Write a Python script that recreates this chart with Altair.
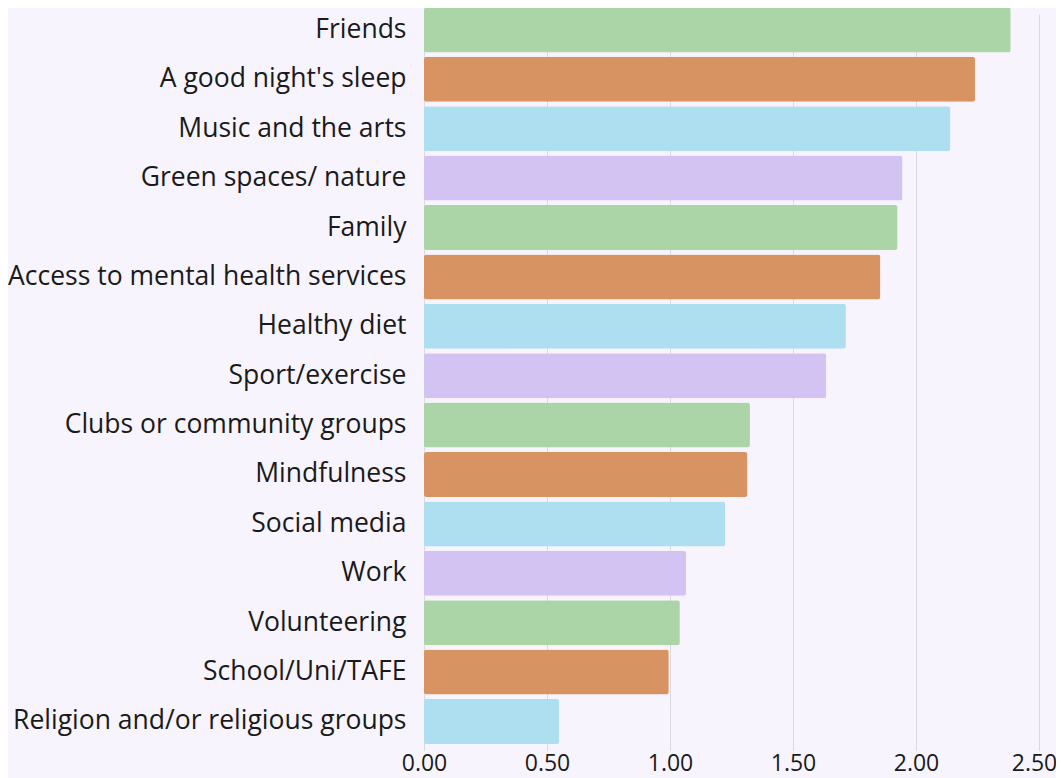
import altair as alt
import pandas as pd

categories = [
    "Friends", "A good night's sleep", "Music and the arts", "Green spaces/ nature",
    "Family", "Access to mental health services", "Healthy diet", "Sport/exercise",
    "Clubs or community groups", "Mindfulness", "Social media", "Work",
    "Volunteering", "School/Uni/TAFE", "Religion and/or religious groups",
]
values = [2.385, 2.24, 2.14, 1.945, 1.925, 1.855, 1.715, 1.635, 1.325, 1.315, 1.225, 1.065, 1.04, 0.995, 0.55]
tick_values = [0, 0.5, 1, 1.5, 2, 2.5]
palette = ["#abd4a7", "#d89363", "#addff0", "#d2c3f3"]

df = pd.DataFrame({
    "category": categories,
    "value": values,
    "group": [str(i % 4) for i in range(len(categories))],
})

FONT = "Open Sans"

chart = alt.Chart(df).mark_bar(cornerRadius=2.5).encode(
    y=alt.Y("category:N", sort=categories, title=None,
            scale=alt.Scale(paddingInner=0.089, paddingOuter=0.0, range=[-6.6, 730]),
            axis=alt.Axis(ticks=False, domain=False, labelPadding=18, labelFontSize=26.5,
                          labelColor="#1a1a1a", labelFont=FONT, labelLimit=600)),
    x=alt.X("value:Q", title=None,
            scale=alt.Scale(domain=[0, 2.5], nice=False),
            axis=alt.Axis(values=tick_values, format=".2f", ticks=False, domain=False,
                          labelPadding=8, labelFontSize=23, labelColor="#1a1a1a", labelFont=FONT,
                          labelOffset={"condition": {"test": "datum.value >= 2.5", "value": -5}, "value": 0},
                          gridColor="#dbd8e0", gridWidth=1, labelFlush=False)),
    color=alt.Color("group:N", scale=alt.Scale(domain=["0", "1", "2", "3"], range=palette), legend=None),
).properties(
    width=615,
    height=730,
    background="#f7f4fd",
    padding={"left": 416, "top": 6, "right": 17, "bottom": 40},
    autosize=alt.AutoSizeParams(type="none"),
).configure_view(stroke=None)

chart.save("out.html", embed_options={"renderer": "svg", "actions": False})
